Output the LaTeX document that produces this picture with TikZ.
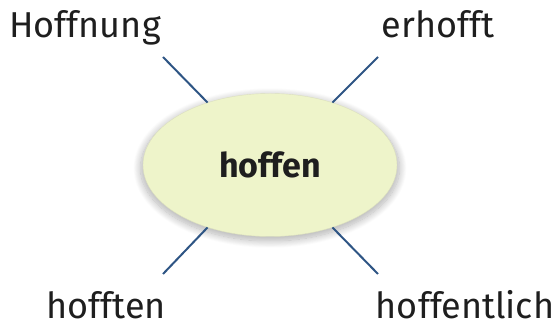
\documentclass[tikz,border=0pt]{standalone}
\usepackage{fontspec}
\setmainfont{Fira Sans}
\usepackage{xcolor}
\usetikzlibrary{shapes.geometric}
\usetikzlibrary{shadows.blur}
\definecolor{hubfill}{HTML}{EEF4CA}
\definecolor{hubline}{HTML}{DCE0BE}
\definecolor{spokeblue}{HTML}{2E5584}
\definecolor{wordgray}{HTML}{1E1E1E}
\tikzset{
    hub/.style = {ellipse, draw=hubline, fill=hubfill, inner sep=0pt, minimum width=254pt, minimum height=143pt,
                  blur shadow={shadow xshift=0pt, shadow yshift=-3pt, shadow scale=1.02, shadow blur steps=16, shadow blur radius=7pt, shadow opacity=30},
                  font=\fontsize{34}{36}\selectfont\bfseries, text=wordgray},
    leaf/.style = {anchor=base, inner sep=0pt, font=\fontsize{36}{40}\selectfont, text=wordgray},
    spoke/.style = {draw=spokeblue, line width=2pt}
}

\begin{document}
\begin{tikzpicture}[x=1pt, y=1pt]
    \useasboundingbox (0,0) rectangle (555,334);
    \node [hub] (hub) at (270,169) {hoffen};
    % words round the ellipse
    \node [leaf] (hoffnung) at (85,296) {Hoffnung};
    \node [leaf] (erhofft) at (438,296) {erhofft};
    \node [leaf] (hofften) at (106,15) {hofften};
    \node [leaf] (hoffentlich) at (465,15) {hoffentlich};
    % free ends of the spokes
    \coordinate (tl) at (163,277);
    \coordinate (tr) at (378,277);
    \coordinate (bl) at (163,60);
    \coordinate (br) at (378,60);
    \draw [spoke] (hub.135) -- (tl);
    \draw [spoke] (hub.45) -- (tr);
    \draw [spoke] (hub.225) -- (bl);
    \draw [spoke] (hub.-45) -- (br);
\end{tikzpicture}
\end{document}
